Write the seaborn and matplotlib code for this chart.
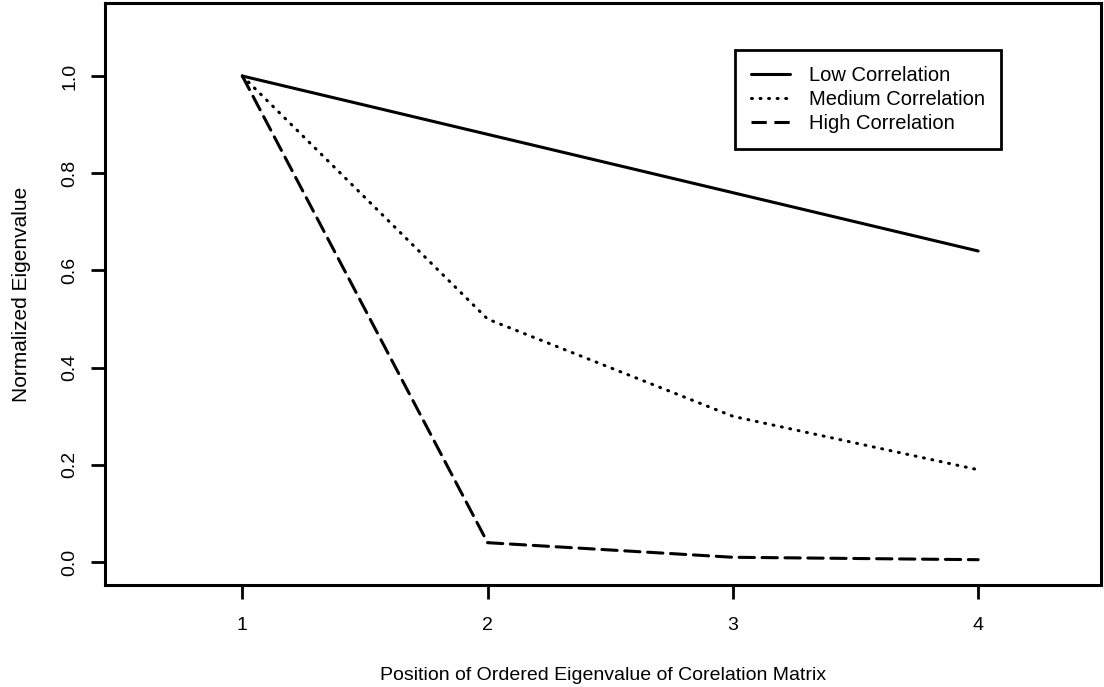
import matplotlib
matplotlib.use("Agg")
import matplotlib.pyplot as plt
import seaborn as sns
import pandas as pd
from matplotlib.lines import Line2D

positions = [1, 2, 3, 4]
low_corr = [1.0, 0.88, 0.76, 0.64]
medium_corr = [1.0, 0.50, 0.30, 0.19]
high_corr = [1.0, 0.04, 0.01, 0.005]
series_names = ["Low Correlation", "Medium Correlation", "High Correlation"]
x_ticks = [1, 2, 3, 4]
y_ticks = [0.0, 0.2, 0.4, 0.6, 0.8, 1.0]

sns.set_theme(style="white")
plt.rcParams["font.family"] = ["Liberation Sans", "DejaVu Sans"]
plt.rcParams["text.color"] = "black"
plt.rcParams["axes.labelcolor"] = "black"
plt.rcParams["xtick.color"] = "black"
plt.rcParams["ytick.color"] = "black"

df = pd.DataFrame({
    "x": positions * 3,
    "y": low_corr + medium_corr + high_corr,
    "series": [series_names[0]] * 4 + [series_names[1]] * 4 + [series_names[2]] * 4,
})

fig = plt.figure(figsize=(11.04, 6.87), dpi=100)
ax = fig.add_axes([0.0951, 0.1485, 0.902, 0.847])

dash_map = {
    series_names[0]: "",
    series_names[1]: (0.3, 2.5),
    series_names[2]: (5, 2.5),
}
sns.lineplot(data=df, x="x", y="y", style="series", dashes=dash_map,
             color="black", linewidth=2.2, ax=ax, legend=False,
             estimator=None, sort=False)
for ln in ax.get_lines():
    ln.set_dash_capstyle("round")
    ln.set_solid_capstyle("round")

ax.set_xlim(0.44, 4.5)
ax.set_ylim(-0.047, 1.15)
ax.set_xticks(x_ticks)
ax.set_xticklabels([str(t) for t in x_ticks], fontsize=14)
ax.set_yticks(y_ticks)
ax.set_yticklabels([f"{t:.1f}" for t in y_ticks], fontsize=14, rotation=90, va="center")
ax.tick_params(axis="both", direction="out", length=10, width=2, color="black",
               bottom=True, left=True)
ax.tick_params(axis="x", pad=13)
ax.tick_params(axis="y", pad=9)
for s in ax.spines.values():
    s.set_linewidth(2.2)
    s.set_color("black")
ax.set_xlabel("Position of Ordered Eigenvalue of Corelation Matrix", fontsize=14, labelpad=24)
ax.set_ylabel("Normalized Eigenvalue", fontsize=15, labelpad=22)

handles = [
    Line2D([], [], color="black", lw=2.2, linestyle="-"),
    Line2D([], [], color="black", lw=2.2, linestyle=(0, (0.3, 2.5)), dash_capstyle="round"),
    Line2D([], [], color="black", lw=2.2, linestyle=(0, (5, 2.5))),
]
leg = ax.legend(handles, series_names, loc="upper left", bbox_to_anchor=(0.6325, 0.92),
                fontsize=14.5, frameon=True, fancybox=False, edgecolor="black",
                framealpha=1.0,
                handlelength=1.9, borderpad=0.82, labelspacing=0.24, handletextpad=0.95,
                borderaxespad=0)
leg.get_frame().set_linewidth(2)

fig.savefig("out.png", dpi=100)
